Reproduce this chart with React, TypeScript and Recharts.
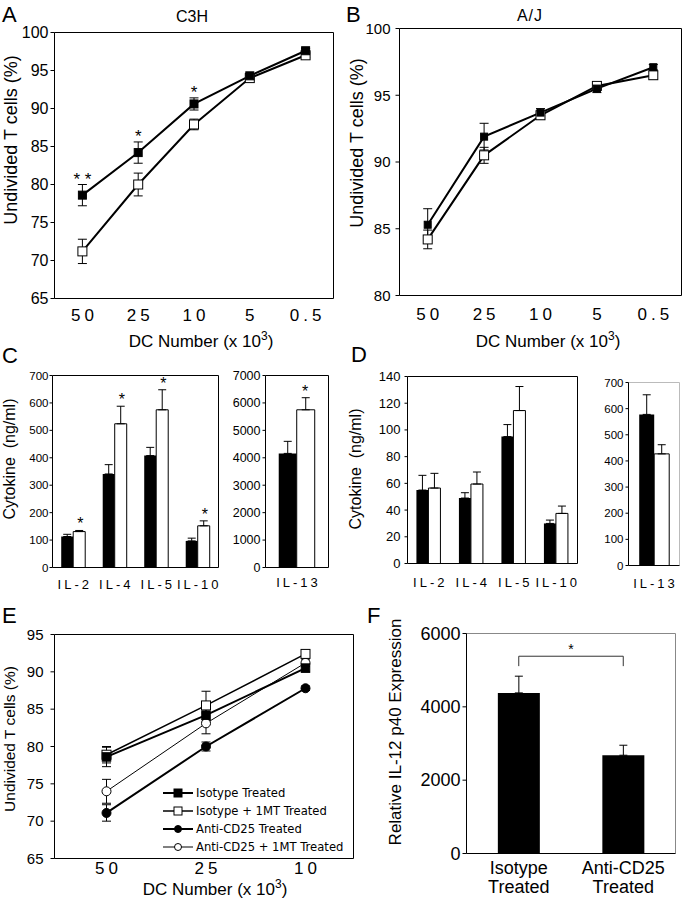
import React from 'react';
import {
  LineChart,
  Line,
  BarChart,
  Bar,
  XAxis,
  YAxis,
  CartesianGrid,
  ErrorBar,
  ReferenceDot,
  ReferenceLine,
  Legend,
} from 'recharts';

const FONT = '"Liberation Sans", Arial, Helvetica, sans-serif';
const NARROW = '"Liberation Sans Narrow", "Liberation Sans", Arial, sans-serif';
const LEGEND_FONT = '"DejaVu Sans", Verdana, sans-serif';

// A - C3H, undivided T cells by DC number
const doses = ['50', '25', '10', '5', '0.5'];
const c3hFilled = [78.6, 84.2, 90.6, 94.3, 97.6];
const c3hFilledErr = [1.4, 1.4, 0.8, 0.3, 0.3];
const c3hOpen = [71.2, 80.0, 87.9, 94.0, 97.0];
const c3hOpenErr = [1.6, 1.5, 0.7, 0.3, 0.3];
const c3hStars = ['* *', '*', '*', '', ''];
const ticksA = [65, 70, 75, 80, 85, 90, 95, 100];

// B - A/J
const ajFilled = [85.3, 91.9, 93.7, 95.5, 97.1];
const ajFilledErr = [1.2, 1.0, 0.3, 0.3, 0.2];
const ajOpen = [84.2, 90.5, 93.5, 95.7, 96.5];
const ajOpenErr = [0.7, 0.6, 0.3, 0.2, 0.3];
const ticksB = [80, 85, 90, 95, 100];

// C / D - cytokines
const cytokines = ['IL-2', 'IL-4', 'IL-5', 'IL-10'];
const c3hCytoFilled = [113, 341, 408, 97];
const c3hCytoFilledErr = [8, 34, 30, 10];
const c3hCytoOpen = [131, 524, 575, 152];
const c3hCytoOpenErr = [4, 64, 73, 18];
const c3hCytoStars = ['*', '*', '*', '*'];
const ticksC = [0, 100, 200, 300, 400, 500, 600, 700];

const il13 = ['IL-13'];
const c3hIl13Filled = [4160];
const c3hIl13FilledErr = [440];
const c3hIl13Open = [5750];
const c3hIl13OpenErr = [440];
const c3hIl13Stars = ['*'];
const ticksC13 = [0, 1000, 2000, 3000, 4000, 5000, 6000, 7000];

const ajCytoFilled = [55, 49, 95, 30];
const ajCytoFilledErr = [11, 4, 9, 2.5];
const ajCytoOpen = [56.5, 59.5, 114.5, 37.5];
const ajCytoOpenErr = [11, 9, 18, 5.5];
const ticksD = [0, 20, 40, 60, 80, 100, 120, 140];

const ajIl13Filled = [578];
const ajIl13FilledErr = [75];
const ajIl13Open = [427];
const ajIl13OpenErr = [35];
const ticksD13 = [0, 100, 200, 300, 400, 500, 600, 700];

// E - anti-CD25 / 1MT
const dosesE = ['50', '25', '10'];
const isoVals = [78.6, 84.2, 90.5];
const isoErr = [1.3, 0.8, 0.5];
const isoMtVals = [78.9, 85.5, 92.4];
const isoMtErr = [1.1, 1.9, 0.4];
const cd25Vals = [71.1, 80.0, 87.8];
const cd25Err = [1.1, 0.6, 0.3];
const cd25MtVals = [74.0, 83.1, 91.2];
const cd25MtErr = [1.6, 1.4, 0.5];
const ticksE = [65, 70, 75, 80, 85, 90, 95];

// F - IL-12 p40
const treatments = ['Isotype Treated', 'Anti-CD25 Treated'];
const p40Vals = [4380, 2680];
const p40Err = [456, 273];
const ticksF = [0, 2000, 4000, 6000];
const bracketY = [5380, 5110];

type Row = Record<string, any>;
const rows = (cats: string[], cols: Record<string, any[]>): Row[] =>
  cats.map((c, i) => {
    const r: Row = { cat: c };
    Object.keys(cols).forEach((k) => (r[k] = cols[k][i]));
    return r;
  });

const up = (errs: number[]) => errs.map((e) => [0, e]);

const dataA = rows(doses, { filled: c3hFilled, filledErr: c3hFilledErr, open: c3hOpen, openErr: c3hOpenErr });
const dataB = rows(doses, { filled: ajFilled, filledErr: ajFilledErr, open: ajOpen, openErr: ajOpenErr });
const dataC = rows(cytokines, { filled: c3hCytoFilled, filledErr: up(c3hCytoFilledErr), open: c3hCytoOpen, openErr: up(c3hCytoOpenErr), top: c3hCytoOpen.map((v, i) => v + c3hCytoOpenErr[i]) });
const dataC13 = rows(il13, { filled: c3hIl13Filled, filledErr: up(c3hIl13FilledErr), open: c3hIl13Open, openErr: up(c3hIl13OpenErr), top: c3hIl13Open.map((v, i) => v + c3hIl13OpenErr[i]) });
const dataD = rows(cytokines, { filled: ajCytoFilled, filledErr: up(ajCytoFilledErr), open: ajCytoOpen, openErr: up(ajCytoOpenErr) });
const dataD13 = rows(il13, { filled: ajIl13Filled, filledErr: up(ajIl13FilledErr), open: ajIl13Open, openErr: up(ajIl13OpenErr) });
const dataE = rows(dosesE, {
  iso: isoVals, isoErr, isoMt: isoMtVals, isoMtErr, cd25: cd25Vals, cd25Err, cd25Mt: cd25MtVals, cd25MtErr,
});
const dataF = rows(treatments, { value: p40Vals, err: up(p40Err) });

// plot-area geometry helper
type Geo = { px: number; py: number; pw: number; ph: number; L: number; B: number; T?: number; R?: number };
const frame = ({ px, py, pw, ph, L, B, T = 14, R = 10 }: Geo) => ({
  style: { position: 'absolute' as const, left: px - L, top: py - T },
  width: L + pw + R + 1,
  height: T + ph + B + 1,
  margin: { top: T + 0.5, left: 0.5, right: R + 0.5, bottom: 0.5 },
});

const xTick = (size: number, spacing: number, dy: number, family = FONT) => (p: any) => (
  <text x={p.x + spacing / 2} y={p.y} dy={dy} textAnchor="middle" fontSize={size} fontFamily={family} letterSpacing={spacing} fill="#000">
    {p.payload.value}
  </text>
);

const yTick = (size: number, family = FONT) => (p: any) => (
  <text x={p.x} y={p.y} dy={size * 0.35} textAnchor="end" fontSize={size} fontFamily={family} fill="#000">
    {p.payload.value}
  </text>
);

const twoLineTick = (p: any) => {
  const parts = String(p.payload.value).split(' ');
  return (
    <text x={p.x} y={p.y} textAnchor="middle" fontSize={18} fontFamily={FONT} fill="#000">
      <tspan x={p.x} dy={20}>{parts[0]}</tspan>
      <tspan x={p.x} dy={19.5}>{parts.slice(1).join(' ')}</tspan>
    </text>
  );
};

const starLabel = (text: string, size: number, dx = 0, gap = 1) => (p: any) => {
  const vb = p.viewBox || {};
  const cx = (vb.x ?? 0) + (vb.width ?? 0) / 2 + dx;
  return (
    <text x={cx} y={(vb.y ?? 0) - gap} textAnchor="middle" fontSize={size} fontFamily={FONT} fill="#000">
      {text}
    </text>
  );
};

type Kind = 'square' | 'circle';
const Marker = ({ kind, filled, size, cx, cy }: { kind: Kind; filled: boolean; size: number; cx: number; cy: number }) =>
  kind === 'square' ? (
    <rect x={cx - size / 2} y={cy - size / 2} width={size} height={size} fill={filled ? '#000' : '#fff'} stroke="#000" strokeWidth={1} />
  ) : (
    <circle cx={cx} cy={cy} r={size / 2} fill={filled ? '#000' : '#fff'} stroke="#000" strokeWidth={1} />
  );

const dotOf = (kind: Kind, filled: boolean, size: number) => (p: any) => {
  if (p.cx == null || p.cy == null) return <g key={`n${p.index}`} />;
  return (
    <g key={`d${p.index}`}>
      <Marker kind={kind} filled={filled} size={size} cx={p.cx} cy={p.cy} />
    </g>
  );
};

// top and right edges of the plot box
const boxGrid = (color: string) => (
  <CartesianGrid
    stroke={color}
    strokeWidth={1}
    fill="none"
    horizontalCoordinatesGenerator={(p: any) => {
      const o = p.offset || p;
      return [o.top];
    }}
    verticalCoordinatesGenerator={(p: any) => {
      const o = p.offset || p;
      return [o.left + o.width];
    }}
  />
);

function DoseChart({ g, data, domain, ticks, tickFont, tickMargin, xDy, filledSize, openSize, stars }: {
  g: Geo; data: Row[]; domain: [number, number]; ticks: number[]; tickFont: number; tickMargin: number; xDy: number;
  filledSize: number; openSize: number; stars?: string[];
}) {
  const f = frame(g);
  const pad = g.pw / 10;
  return (
    <div style={f.style}>
      <LineChart width={f.width} height={f.height} data={data} margin={f.margin}>
        {boxGrid('#000')}
        <XAxis dataKey="cat" interval={0} padding={{ left: pad, right: pad }} height={g.B} tickLine={false} tickSize={0} tickMargin={0} tick={xTick(17, 4, xDy)} stroke="#000" />
        <YAxis type="number" domain={domain} ticks={ticks} interval={0} width={g.L} tickSize={4} tickMargin={tickMargin} tick={yTick(tickFont)} stroke="#000" allowDataOverflow />
        <Line dataKey="open" stroke="#000" strokeWidth={2} dot={dotOf('square', false, openSize)} activeDot={false} isAnimationActive={false}>
          <ErrorBar dataKey="openErr" width={4.5} stroke="#000" strokeWidth={1} direction="y" />
        </Line>
        <Line dataKey="filled" stroke="#000" strokeWidth={2} dot={dotOf('square', true, filledSize)} activeDot={false} isAnimationActive={false}>
          <ErrorBar dataKey="filledErr" width={4.5} stroke="#000" strokeWidth={1} direction="y" />
        </Line>
        {stars &&
          data.map((d, i) =>
            stars[i] ? (
              <ReferenceDot key={`s${i}`} x={d.cat} y={d.filled + d.filledErr} r={0} fill="none" stroke="none" label={starLabel(stars[i], 17, 0, 0)} />
            ) : null,
          )}
      </LineChart>
    </div>
  );
}

function CytoChart({ g, data, ticks, tickFont, tickFamily, tickMargin, xDy, frameColor, stars, starDx }: {
  g: Geo; data: Row[]; ticks: number[]; tickFont: number; tickFamily: string; tickMargin: number; xDy: number;
  frameColor: string; stars?: string[]; starDx?: number;
}) {
  const f = frame(g);
  return (
    <div style={f.style}>
      <BarChart width={f.width} height={f.height} data={data} margin={f.margin} barCategoryGap="21%" barGap={0}>
        {boxGrid(frameColor)}
        <XAxis dataKey="cat" interval={0} height={g.B} tickLine={false} tickSize={0} tickMargin={0} tick={xTick(13, 3, xDy)} stroke="#000" />
        <YAxis type="number" domain={[ticks[0], ticks[ticks.length - 1]]} ticks={ticks} interval={0} width={g.L} tickSize={3} tickMargin={tickMargin} tick={yTick(tickFont, tickFamily)} stroke="#000" />
        <Bar dataKey="filled" fill="#000" isAnimationActive={false}>
          <ErrorBar dataKey="filledErr" width={4} stroke="#000" strokeWidth={1} direction="y" />
        </Bar>
        <Bar dataKey="open" fill="#fff" stroke="#000" strokeWidth={1} isAnimationActive={false}>
          <ErrorBar dataKey="openErr" width={4} stroke="#000" strokeWidth={1} direction="y" />
        </Bar>
        {stars &&
          data.map((d, i) =>
            stars[i] ? (
              <ReferenceDot key={`s${i}`} x={d.cat} y={d.top} r={0} fill="none" stroke="none" label={starLabel(stars[i], 16, starDx ?? 0, 1)} />
            ) : null,
          )}
      </BarChart>
    </div>
  );
}

const eSeries = [
  { key: 'cd25Mt', name: 'Anti-CD25 + 1MT Treated', kind: 'circle' as Kind, filled: false, size: 9, lw: 1, order: 3 },
  { key: 'isoMt', name: 'Isotype + 1MT Treated', kind: 'square' as Kind, filled: false, size: 9, lw: 1.5, order: 1 },
  { key: 'cd25', name: 'Anti-CD25 Treated', kind: 'circle' as Kind, filled: true, size: 9, lw: 2, order: 2 },
  { key: 'iso', name: 'Isotype Treated', kind: 'square' as Kind, filled: true, size: 8.5, lw: 2, order: 0 },
];

const renderLegendE = () => {
  const sorted = [...eSeries].sort((a, b) => a.order - b.order);
  return (
    <div style={{ fontFamily: LEGEND_FONT, fontSize: 11.6, color: '#000' }}>
      {sorted.map((s) => (
        <div key={s.key} style={{ display: 'flex', alignItems: 'center', height: 18 }}>
          <svg width={30} height={18} style={{ display: 'block' }}>
            <line x1={0} x2={30} y1={9} y2={9} stroke="#000" strokeWidth={s.lw} />
            <Marker kind={s.kind} filled={s.filled} size={s.kind === 'circle' ? 7 : 8} cx={15} cy={9} />
          </svg>
          <span style={{ marginLeft: 3, whiteSpace: 'pre' }}>{s.name}</span>
        </div>
      ))}
    </div>
  );
};

function ChartE() {
  const g: Geo = { px: 54, py: 634, pw: 299, ph: 224, L: 54, B: 40 };
  const f = frame(g);
  return (
    <div style={f.style}>
      <LineChart width={f.width} height={f.height} data={dataE} margin={f.margin}>
        {boxGrid('#000')}
        <XAxis dataKey="cat" interval={0} padding={{ left: 52, right: 48 }} height={g.B} tickLine={false} tickSize={0} tickMargin={0} tick={xTick(17, 4, 15.5)} stroke="#000" />
        <YAxis type="number" domain={[65, 95]} ticks={ticksE} interval={0} width={g.L} tickSize={4} tickMargin={7} tick={yTick(15)} stroke="#000" allowDataOverflow />
        {eSeries.map((s) => (
          <Line key={s.key} dataKey={s.key} name={s.name} stroke="#000" strokeWidth={s.lw} dot={dotOf(s.kind, s.filled, s.size)} activeDot={false} isAnimationActive={false}>
            <ErrorBar dataKey={`${s.key}Err`} width={4.5} stroke="#000" strokeWidth={1} direction="y" />
          </Line>
        ))}
        <Legend
          layout="vertical"
          align="center"
          verticalAlign="middle"
          content={renderLegendE}
          wrapperStyle={{ position: 'absolute', left: 163, top: 784 - (g.py - 14), width: 200 }}
        />
      </LineChart>
    </div>
  );
}

function ChartF() {
  const g: Geo = { px: 466, py: 633, pw: 209, ph: 220, L: 60, B: 50 };
  const f = frame(g);
  const [iso, cd25] = treatments;
  return (
    <div style={f.style}>
      <BarChart width={f.width} height={f.height} data={dataF} margin={f.margin} barCategoryGap="30%">
        {boxGrid('#888')}
        <XAxis dataKey="cat" interval={0} height={g.B} tickLine={false} tickSize={0} tickMargin={0} tick={twoLineTick} stroke="#000" />
        <YAxis type="number" domain={[0, 6000]} ticks={ticksF} interval={0} width={g.L} tickSize={4} tickMargin={2} tick={yTick(18)} stroke="#000" />
        <Bar dataKey="value" fill="#000" isAnimationActive={false}>
          <ErrorBar dataKey="err" width={4} stroke="#000" strokeWidth={1} direction="y" />
        </Bar>
        <ReferenceLine segment={[{ x: iso, y: bracketY[0] }, { x: cd25, y: bracketY[0] }]} stroke="#333" strokeWidth={1} ifOverflow="visible" label={starLabel('*', 14, 0, 2)} />
        <ReferenceLine segment={[{ x: iso, y: bracketY[0] }, { x: iso, y: bracketY[1] }]} stroke="#333" strokeWidth={1} ifOverflow="visible" />
        <ReferenceLine segment={[{ x: cd25, y: bracketY[0] }, { x: cd25, y: bracketY[1] }]} stroke="#333" strokeWidth={1} ifOverflow="visible" />
      </BarChart>
    </div>
  );
}

const DcLabel = ({ x, y }: { x: number; y: number }) => (
  <text x={x} y={y} textAnchor="middle" fontSize={17} fontFamily={FONT} fill="#000">
    DC Number (x 10
    <tspan dy={-7} fontSize={12}>3</tspan>
    <tspan dy={7}>)</tspan>
  </text>
);

const VLabel = ({ x, y, size, text }: { x: number; y: number; size: number; text: string }) => (
  <text transform={`translate(${x},${y}) rotate(-90)`} textAnchor="middle" dominantBaseline="central" fontSize={size} fontFamily={FONT} fill="#000" style={{ whiteSpace: 'pre' }}>
    {text}
  </text>
);

const Letter = ({ x, y, t }: { x: number; y: number; t: string }) => (
  <text x={x} y={y} fontSize={22} fontFamily={FONT} fill="#000">
    {t}
  </text>
);

export default function App() {
  return (
    <div style={{ position: 'absolute', left: 0, top: 0, width: 682, height: 899, overflow: 'hidden', background: '#fff' }}>
      <DoseChart g={{ px: 54, py: 32, pw: 279, ph: 266, L: 54, B: 40 }} data={dataA} domain={[65, 100]} ticks={ticksA} tickFont={16} tickMargin={2} xDy={22} filledSize={8} openSize={9} stars={c3hStars} />
      <DoseChart g={{ px: 399, py: 28, pw: 282, ph: 267, L: 50, B: 40 }} data={dataB} domain={[80, 100]} ticks={ticksB} tickFont={15} tickMargin={5} xDy={24} filledSize={7} openSize={9} />
      <CytoChart g={{ px: 52, py: 375, pw: 166, ph: 192, L: 52, B: 30 }} data={dataC} ticks={ticksC} tickFont={11.5} tickFamily={NARROW} tickMargin={1} xDy={21} frameColor="#000" stars={c3hCytoStars} starDx={7} />
      <CytoChart g={{ px: 265, py: 375, pw: 63, ph: 192, L: 40, B: 30 }} data={dataC13} ticks={ticksC13} tickFont={12.5} tickFamily={NARROW} tickMargin={2} xDy={19} frameColor="#000" stars={c3hIl13Stars} starDx={8} />
      <CytoChart g={{ px: 407, py: 376, pw: 170, ph: 187, L: 44, B: 30 }} data={dataD} ticks={ticksD} tickFont={13} tickFamily={FONT} tickMargin={4} xDy={23} frameColor="#000" />
      <CytoChart g={{ px: 628, py: 382, pw: 51, ph: 183, L: 30, B: 30, R: 2 }} data={dataD13} ticks={ticksD13} tickFont={11.5} tickFamily={NARROW} tickMargin={2} xDy={22} frameColor="#bbb" />
      <ChartE />
      <ChartF />
      <svg width={682} height={899} style={{ position: 'absolute', left: 0, top: 0, pointerEvents: 'none' }}>
        <Letter x={2} y={22} t="A" />
        <Letter x={346} y={22} t="B" />
        <Letter x={2} y={363} t="C" />
        <Letter x={351} y={362} t="D" />
        <Letter x={2} y={623} t="E" />
        <Letter x={367} y={623} t="F" />
        <text x={192} y={21.5} textAnchor="middle" fontSize={16} fontFamily={FONT} fill="#000">C3H</text>
        <text x={530} y={21} textAnchor="middle" fontSize={16} fontFamily={FONT} letterSpacing={1} fill="#000">A/J</text>
        <VLabel x={11} y={140} size={18} text="Undivided T cells (%)" />
        <VLabel x={357} y={143} size={18} text="Undivided T cells (%)" />
        <VLabel x={9} y={459} size={16} text="Cytokine  (ng/ml)" />
        <VLabel x={355} y={469} size={16} text="Cytokine  (ng/ml)" />
        <VLabel x={9} y={739} size={15.5} text="Undivided T cells (%)" />
        <VLabel x={395} y={732} size={17} text="Relative IL-12 p40 Expression" />
        <DcLabel x={201} y={347} />
        <DcLabel x={548} y={347} />
        <DcLabel x={215} y={895} />
      </svg>
    </div>
  );
}
